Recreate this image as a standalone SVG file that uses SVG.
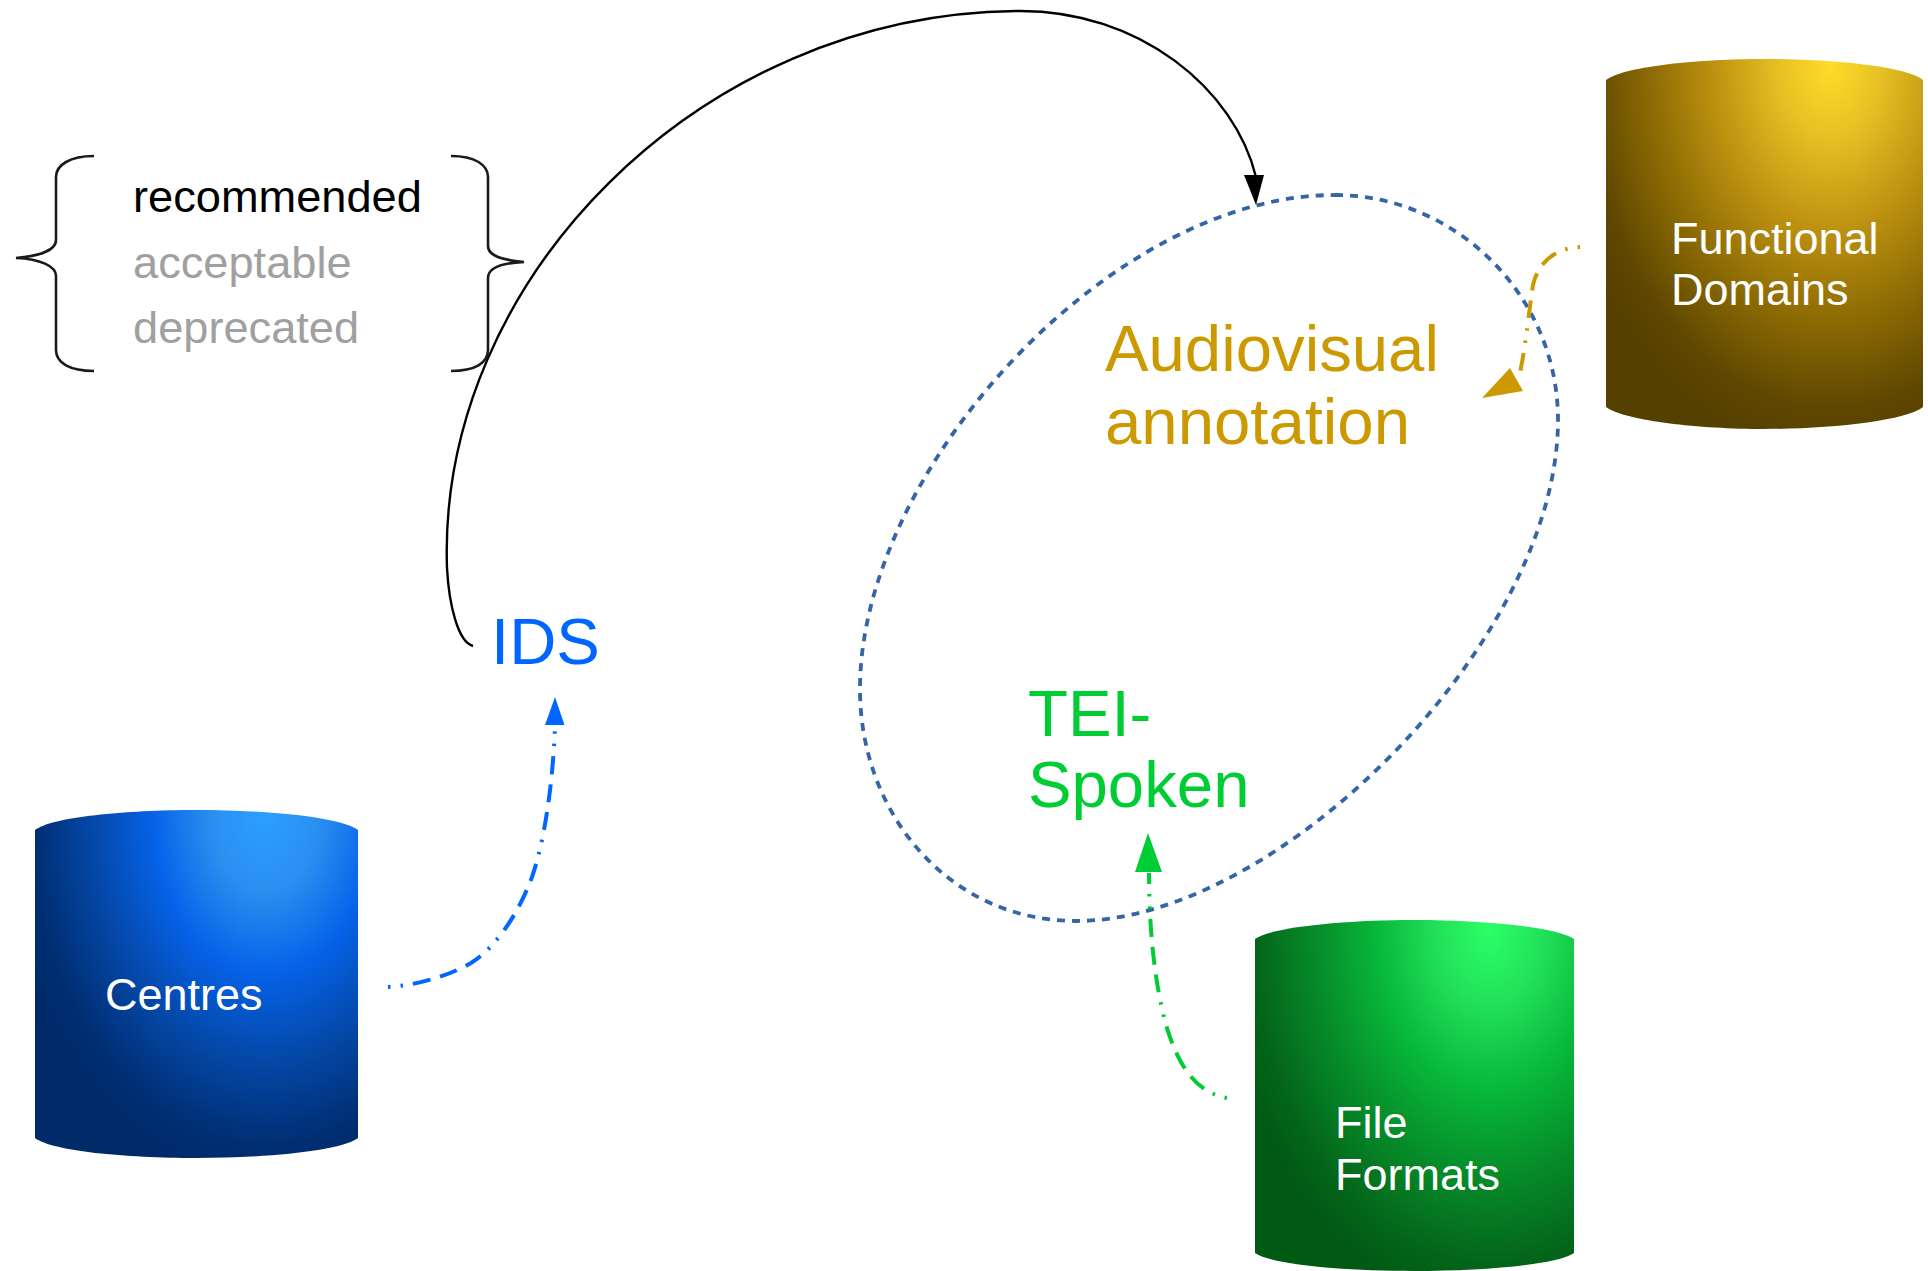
<svg xmlns="http://www.w3.org/2000/svg" width="1928" height="1271" viewBox="0 0 1928 1271">
<style>
text{font-family:"Liberation Sans",Arial,sans-serif}
.w{fill:#fff;font-size:45px}
.leg{font-size:45.2px;fill:#a0a0a0}
.big{font-size:65.3px}
.cn{fill:none}
.dd{stroke-width:4;stroke-dasharray:2.5 10 2.5 10 18 10 18 10 18 10}
</style>
<defs>
<radialGradient id="gGold" gradientUnits="userSpaceOnUse" cx="0" cy="0" r="1" gradientTransform="translate(1830 65) scale(275 390)">
<stop offset="0" stop-color="#ffdc28"/><stop offset=".18" stop-color="#e6c224"/><stop offset=".42" stop-color="#bd9210"/><stop offset=".65" stop-color="#8e6c04"/><stop offset=".88" stop-color="#5f4700"/><stop offset="1" stop-color="#564000"/>
</radialGradient>
<radialGradient id="gBlue" gradientUnits="userSpaceOnUse" cx="0" cy="0" r="1" gradientTransform="translate(265 815) scale(265 375)">
<stop offset="0" stop-color="#2b9fff"/><stop offset=".2" stop-color="#2a90f0"/><stop offset=".42" stop-color="#0662e8"/><stop offset=".65" stop-color="#0448a8"/><stop offset=".88" stop-color="#002e72"/><stop offset="1" stop-color="#002a68"/>
</radialGradient>
<radialGradient id="gGreen" gradientUnits="userSpaceOnUse" cx="0" cy="0" r="1" gradientTransform="translate(1490 930) scale(265 375)">
<stop offset="0" stop-color="#2bff66"/><stop offset=".2" stop-color="#22e05a"/><stop offset=".42" stop-color="#08b93a"/><stop offset=".65" stop-color="#068d2a"/><stop offset=".88" stop-color="#04661a"/><stop offset="1" stop-color="#005a14"/>
</radialGradient>
</defs>
<g id="connectors">
<path id="ellipse" class="cn" stroke="#3465a4" stroke-width="3.8" stroke-dasharray="8 7" d="M1335 195C1455 195 1558 295 1558 420C1558 640 1280 921 1076 921C950 921 860 815 860 689C860 470 1110 195 1335 195Z"/>
<path id="blackCurve" class="cn" stroke="#000" stroke-width="2.4" d="M473 646C458 642 449 605 447 568C437 280 700 14 1016 11C1140 9 1235 90 1256 177"/>
<polygon points="1256,205 1244,175 1264,175" fill="#000"/>
<path id="blueArrow" class="cn dd" stroke="#0066ff" d="M388 987C420 985 450 975 471 963C495 948 518 915 532 877C545 840 553 780 555 727"/>
<polygon points="555,697 564.5,725 545,725" fill="#0066ff"/>
<path id="greenArrow" class="cn dd" stroke="#00cc33" d="M1227 1098C1195 1092 1178 1065 1166 1025C1155 985 1149 930 1149 873"/>
<polygon points="1148,833 1162,872 1135,872" fill="#00cc33"/>
<path id="goldArrow" class="cn dd" stroke="#cc9900" d="M1580 247C1556 248 1538 262 1533 285C1529 310 1526 345 1519 378"/>
<polygon points="1482,398 1510,368 1523,391" fill="#cc9900"/>
</g>
<g id="legend">
<path class="cn" stroke="#1a1a1a" stroke-width="2.6" d="M94 156C70 156 56 165 56 177V240C56 250 40 256 16 258C40 259 56 266 56 276V350C56 363 70 371 94 371"/>
<path class="cn" stroke="#1a1a1a" stroke-width="2.6" d="M451 156C475 156 488 165 488 177V246C488 256 502 260 524 262C502 263 488 268 488 278V350C488 363 475 371 451 371"/>
<text x="133" y="212" class="leg" style="fill:#000">recommended</text>
<text x="133" y="278" class="leg">acceptable</text>
<text x="133" y="343" class="leg">deprecated</text>
</g>
<g id="ids"><text x="491" y="664" class="big" fill="#0066ff">IDS</text></g>
<g id="audiovisual"><text class="big" fill="#cc9900"><tspan x="1105" y="371">Audiovisual</tspan><tspan x="1105" y="444">annotation</tspan></text></g>
<g id="tei"><text class="big" fill="#00cc33"><tspan x="1028" y="736">TEI-</tspan><tspan x="1028" y="807">Spoken</tspan></text></g>
<g id="functional">
<path fill="url(#gGold)" d="M1606 80C1625 66 1700 59 1764 59C1830 59 1905 66 1923 80V407C1905 421 1830 429 1764 429C1700 429 1625 421 1606 407Z"/>
<text class="w"><tspan x="1671" y="254">Functional</tspan><tspan x="1671" y="305">Domains</tspan></text>
</g>
<g id="centres">
<path fill="url(#gBlue)" d="M35 830C52 817 125 810 196 810C267 810 340 817 358 830V1138C340 1151 267 1158 196 1158C125 1158 52 1151 35 1138Z"/>
<text x="105" y="1010" class="w">Centres</text>
</g>
<g id="fileformats">
<path fill="url(#gGreen)" d="M1255 939C1272 927 1345 920 1414 920C1483 920 1556 927 1574 939V1253C1556 1265 1483 1271 1414 1271C1345 1271 1272 1265 1255 1253Z"/>
<text class="w"><tspan x="1335" y="1138">File</tspan><tspan x="1335" y="1190">Formats</tspan></text>
</g>
</svg>
